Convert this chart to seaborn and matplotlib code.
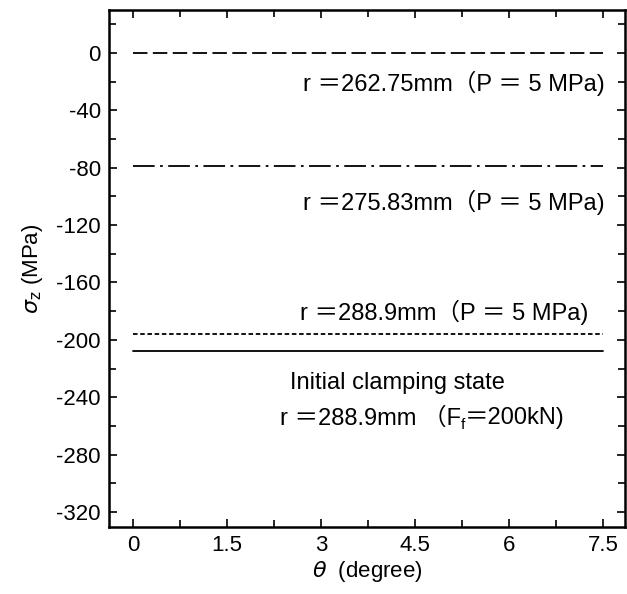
import matplotlib
matplotlib.use("Agg")
import matplotlib.pyplot as plt
import seaborn as sns
import pandas as pd
from matplotlib.ticker import MultipleLocator

# ---- data ----
theta = [0, 1.5, 3, 4.5, 6, 7.5]
s_26275 = [0, 0, 0, 0, 0, 0]
s_27583 = [-79, -79, -79, -79, -79, -79]
s_2889_p = [-196, -196, -196, -196, -196, -196]
s_2889_init = [-208, -208, -208, -208, -208, -208]
x_ticks = [0, 1.5, 3, 4.5, 6, 7.5]
x_tick_labels = ["0", "1.5", "3", "4.5", "6", "7.5"]
y_ticks = [0, -40, -80, -120, -160, -200, -240, -280, -320]
y_tick_labels = ["0", "-40", "-80", "-120", "-160", "-200", "-240", "-280", "-320"]

sns.set_style("ticks")
plt.rcParams["font.family"] = ["Liberation Sans", "Noto Sans CJK JP", "DejaVu Sans"]
plt.rcParams["mathtext.fontset"] = "dejavusans"
plt.rcParams["text.color"] = "black"
plt.rcParams["axes.labelcolor"] = "black"
plt.rcParams["xtick.color"] = "black"
plt.rcParams["ytick.color"] = "black"

DPI = 100
fig = plt.figure(figsize=(6.27, 5.94), dpi=DPI)
ax = fig.add_axes([109/627, 1-527/594, (625-109)/627, (527-10)/594])

series = [
    (s_26275, (0, (8, 3))),
    (s_27583, (0, (12, 3, 1.5, 3))),
    (s_2889_p, (0, (2.5, 1.5))),
    (s_2889_init, "-"),
]
for vals, ls in series:
    df = pd.DataFrame({"theta": theta, "sigma": vals})
    sns.lineplot(data=df, x="theta", y="sigma", ax=ax, color="black",
                 linewidth=1.3, linestyle=ls, legend=False)

ax.set_xlim(-0.38, 7.85)
ax.set_ylim(-330.5, 30)
ax.set_xticks(x_ticks)
ax.set_xticklabels(x_tick_labels)
ax.set_yticks(y_ticks)
ax.set_yticklabels(y_tick_labels)
ax.xaxis.set_minor_locator(MultipleLocator(0.75))
ax.yaxis.set_minor_locator(MultipleLocator(20))
ax.tick_params(axis="both", which="both", direction="in", top=True, right=True,
               color="black", width=1.2)
ax.tick_params(axis="both", which="major", labelsize=16, length=6, pad=6)
ax.tick_params(axis="both", which="minor", length=5)
for sp in ax.spines.values():
    sp.set_linewidth(1.8)
    sp.set_color("black")

ax.set_xlabel(r"$\theta$  (degree)", fontsize=16, labelpad=2)
ax.set_ylabel(r"$\sigma_\mathrm{z}$ (MPa)", fontsize=16, labelpad=8)

fs = 17
ax.text(7.53, -21, "r ＝262.75mm（P ＝ 5 MPa)", fontsize=fs, ha="right", va="center")
ax.text(7.53, -104, "r ＝275.83mm（P ＝ 5 MPa)", fontsize=fs, ha="right", va="center")
ax.text(7.26, -181, "r ＝288.9mm（P ＝ 5 MPa)", fontsize=fs, ha="right", va="center")
ax.text(2.5, -230, "Initial clamping state", fontsize=fs, ha="left", va="center")

# last label with subscript built from pieces
x0, y0 = 2.34, -259
t1 = ax.text(x0, y0, "r ＝288.9mm （F", fontsize=fs, ha="left", va="baseline")
fig.canvas.draw()
w1 = t1.get_window_extent().width * 72 / DPI
t2 = ax.annotate("f", xy=(x0, y0), xycoords="data", xytext=(w1, -3.5),
                 textcoords="offset points", fontsize=fs * 0.65, ha="left", va="baseline")
fig.canvas.draw()
w2 = t2.get_window_extent().width * 72 / DPI
ax.annotate("＝200kN)", xy=(x0, y0), xycoords="data", xytext=(w1 + w2, 0),
            textcoords="offset points", fontsize=fs, ha="left", va="baseline")

fig.savefig("out.png", dpi=DPI)
